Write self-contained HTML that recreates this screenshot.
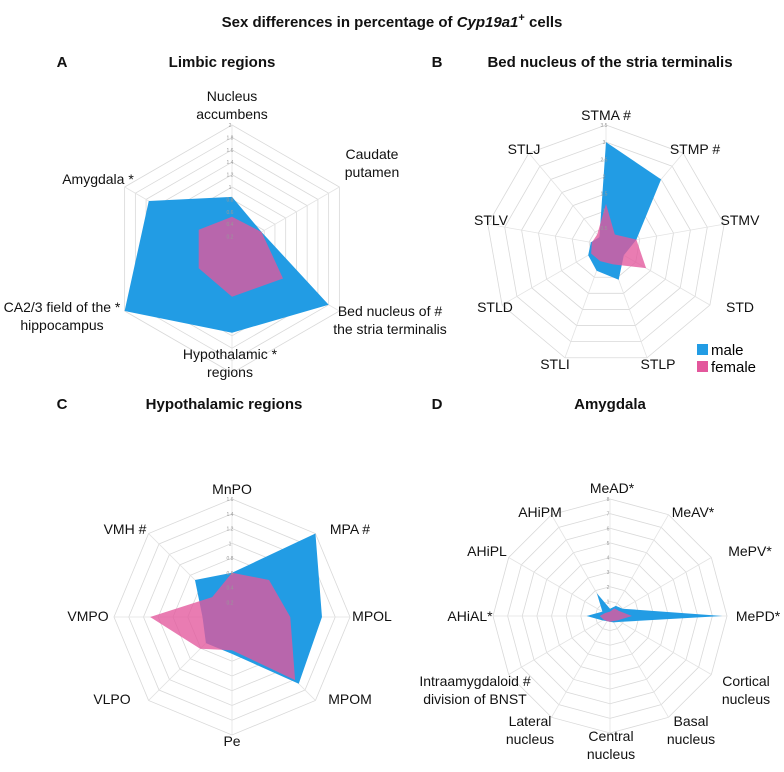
<!DOCTYPE html>
<html><head><meta charset="utf-8"><style>
body{margin:0;background:#fff;}
svg{display:block;font-family:"Liberation Sans",sans-serif;}
.lbl{font-size:14px;fill:#111;text-anchor:middle;}
.ttl{font-size:15px;font-weight:bold;fill:#111;text-anchor:middle;}
.tick{font-size:5px;fill:#999;text-anchor:middle;}
</style></head><body>
<svg id="chart" width="784" height="772" viewBox="0 0 784 772">
<text x="392" y="27" class="ttl">Sex differences in percentage of <tspan font-style="italic">Cyp19a1</tspan><tspan dy="-6" font-size="11">+</tspan><tspan dy="6"> cells</tspan></text>
<g id="panels"></g>
<g>
<rect x="697" y="344" width="11" height="11" fill="#229ce4"/>
<text x="711" y="355" font-size="15">male</text>
<rect x="697" y="361" width="11" height="11" fill="#e3579c"/>
<text x="711" y="372" font-size="15">female</text>
</g>
</svg>
<script>
const aMale=[0.84,0.55,1.8,1.35,2.0,1.55];
const aFemale=[0.52,0.55,0.95,0.77,0.62,0.62];
const bMale=[3.0,2.5,0.9,0.6,1.08,0.8,0.6,0.45,0.3];
const bFemale=[1.2,0.4,0.9,1.35,0.6,0.5,0.5,0.42,0.4];
const cMale=[0.6,1.6,1.22,1.28,0.5,0.5,0.4,0.71];
const cFemale=[0.6,0.71,0.79,1.21,0.45,0.61,1.11,0.38];
const dMale=[0.5,0.8,1.0,7.7,0.8,0.5,0.4,0.4,0.6,1.6,0.6,1.8];
const dFemale=[0.3,0.6,0.7,1.5,0.6,0.4,0.4,0.4,0.5,0.7,0.4,0.3];
const ticksA=[0.2,0.4,0.6,0.8,1,1.2,1.4,1.6,1.8,2];
const ticksB=[0.5,1.0,1.5,2.0,2.5,3.0,3.5];
const ticksC=[0.2,0.4,0.6,0.8,1.0,1.2,1.4,1.6];
const ticksD=[1,2,3,4,5,6,7,8];
const NS="http://www.w3.org/2000/svg";
const root=document.getElementById('panels');
function mk(tag,attrs,parent){const e=document.createElementNS(NS,tag);for(const k in attrs)e.setAttribute(k,attrs[k]);parent.appendChild(e);return e;}
function radar(cfg){
  const g=mk('g',{},root);
  
  
  const n=cfg.male.length, max=cfg.ticks[cfg.ticks.length-1];
  const pt=(i,v)=>{const a=i*2*Math.PI/n;const r=v/max*cfg.R;return [cfg.cx+r*Math.sin(a),cfg.cy-r*Math.cos(a)];};
  cfg.ticks.forEach(t=>{
    const p=[];for(let i=0;i<n;i++)p.push(pt(i,t).join(','));
    const ring=mk('polygon',{points:p.join(' '),fill:'none',stroke:'#d9d9d9','stroke-width':0.8},g);
    
    
  });
  for(let i=0;i<n;i++){const e=pt(i,max);const sp=mk('line',{x1:cfg.cx,y1:cfg.cy,x2:e[0],y2:e[1],stroke:'#e3e3e3','stroke-width':0.8},g);
    
    }
  const pm=cfg.male.map((v,i)=>pt(i,v).join(',')).join(' ');
  const m=mk('polygon',{points:pm,fill:'#229ce4'},g);
  
  
  const pf=cfg.female.map((v,i)=>pt(i,v).join(',')).join(' ');
  const f=mk('polygon',{points:pf,fill:'#e3579c','fill-opacity':0.78},g);
  
  
  cfg.ticks.forEach(t=>{const p=pt(0,t);const tx=mk('text',{x:cfg.cx-2,y:p[1]+2,class:'tick'},g);tx.textContent=t;
    
    });
  cfg.labels.forEach(l=>{const tx=mk('text',{x:l[1],y:l[2],class:'lbl'},g);
    
    
    l[0].split('|').forEach((s,k)=>{const ts=mk('tspan',{x:l[1],dy:k?18:0},tx);ts.textContent=s;});});
  const le=mk('text',{x:cfg.letter[0],y:cfg.letter[1],class:'ttl'},g);le.textContent=cfg.letter[2];
  
  
  const ti=mk('text',{x:cfg.title[0],y:cfg.title[1],class:'ttl'},g);ti.textContent=cfg.title[2];
  
  
}
radar({name:'panel-a-limbic',cx:232,cy:249,R:124,male:aMale,female:aFemale,ticks:ticksA,letter:[62,67,'A'],title:[222,67,'Limbic regions'],
 labels:[['Nucleus|accumbens',232,101],['Caudate|putamen',372,159],['Bed nucleus of #|the stria terminalis',390,316],['Hypothalamic *|regions',230,359],['CA2/3 field of the *|hippocampus',62,312],['Amygdala *',98,184]]});
radar({name:'panel-b-bnst',cx:606,cy:245,R:120,male:bMale,female:bFemale,ticks:ticksB,letter:[437,67,'B'],title:[610,67,'Bed nucleus of the stria terminalis'],
 labels:[['STMA #',606,120],['STMP #',695,154],['STMV',740,225],['STD',740,312],['STLP',658,369],['STLI',555,369],['STLD',495,312],['STLV',491,225],['STLJ',524,154]]});
radar({name:'panel-c-hypothalamic',cx:232,cy:617,R:118,male:cMale,female:cFemale,ticks:ticksC,letter:[62,409,'C'],title:[224,409,'Hypothalamic regions'],
 labels:[['MnPO',232,494],['MPA #',350,534],['MPOL',372,621],['MPOM',350,704],['Pe',232,746],['VLPO',112,704],['VMPO',88,621],['VMH #',125,534]]});
radar({name:'panel-d-amygdala',cx:610,cy:616,R:117,male:dMale,female:dFemale,ticks:ticksD,letter:[437,409,'D'],title:[610,409,'Amygdala'],
 labels:[['MeAD*',612,493],['MeAV*',693,517],['MePV*',750,556],['MePD*',758,621],['Cortical|nucleus',746,686],['Basal|nucleus',691,726],['Central|nucleus',611,741],['Lateral|nucleus',530,726],['Intraamygdaloid #|division of BNST',475,686],['AHiAL*',470,621],['AHiPL',487,556],['AHiPM',540,517]]});
</script>
</body></html>
